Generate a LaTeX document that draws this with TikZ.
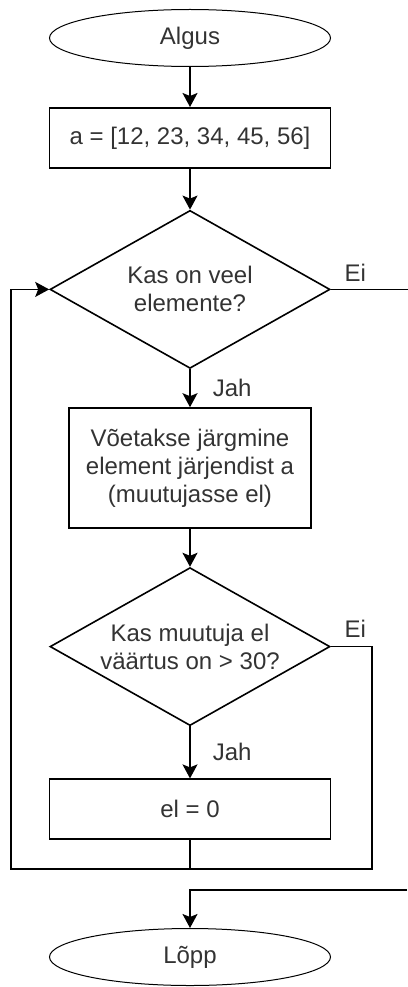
\documentclass[tikz,border=0pt]{standalone}
\usepackage{fontspec}
\setmainfont{Liberation Sans}
\usetikzlibrary{positioning,shapes.geometric,arrows.meta}

\begin{document}
\begin{tikzpicture}%
  [x=1pt,y=1pt,line width=1.6pt,
   every node/.style={font=\fontsize{24}{28}\selectfont,text=black!80}]
  \tikzstyle{end node}=[ellipse,draw,line width=1pt,minimum width=281pt,minimum height=57pt,inner sep=0]
  \tikzstyle{box node}=[rectangle,draw,minimum width=281pt,minimum height=60pt,inner sep=0,align=center]
  \tikzstyle{ask node}=[diamond,draw,aspect=1.75,minimum width=280pt,minimum height=158pt,inner sep=0,align=center]
  \tikzstyle{go}=[-{Stealth[length=14pt,width=15pt,inset=3pt]}]
  \tikzstyle{tag}=[inner sep=0]
  \useasboundingbox (0,0) rectangle (407,-987);
  \node(start)[end node] at (190,-38) {Algus};
  \node(init)[box node,below=40pt of start] {a = [12, 23, 34, 45, 56]};
  \node(loop)[ask node,below=41pt of init] {Kas on veel\\elemente?};
  \node(take)[box node,minimum width=242pt,minimum height=120pt,below=38pt of loop]
    {V\~oetakse j\"argmine\\element j\"arjendist a\\(muutujasse el)};
  \node(check)[ask node,below=38pt of take] {Kas muutuja el\\v\"a\"artus on > 30?};
  \node(reset)[box node,below=52pt of check] {el = 0};
  \node(stop)[end node,below=88pt of reset] {L\~opp};
  \path (loop.east) ++(77,0) coordinate(exitA);
  \coordinate(exitB) at (407,-890);
  \coordinate(back) at ([yshift=-29pt]reset.south);
  % main column
  \draw[go] (start) -- (init);
  \draw[go] (init) -- (loop);
  \draw[go] (loop) -- node(yesA)[tag,right=22pt]{Jah} (take);
  \draw[go] (take) -- (check);
  \draw[go] (check) -- node(yesB)[tag,right=22pt]{Jah} (reset);
  % back to the loop
  \draw (reset) -- (back);
  \draw (check.east) -- ++(41,0) |- (back);
  \draw[go] (back) -| ([xshift=-38pt]loop.west) -- (loop.west);
  % way out
  \draw (loop.east) -- (exitA);
  \draw[go] (exitB) -| (stop.north);
  \node(noA)[tag,anchor=west] at ([xshift=13pt,yshift=17pt]loop.east) {Ei};
  \node(noB)[tag,anchor=west] at ([xshift=13pt,yshift=18pt]check.east) {Ei};
\end{tikzpicture}
\end{document}
